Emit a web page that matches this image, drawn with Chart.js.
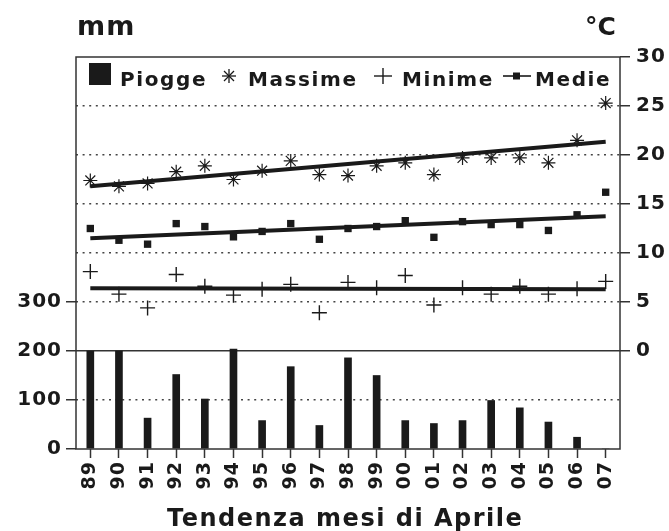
<!DOCTYPE html>
<html>
<head>
<meta charset="utf-8">
<script src="https://cdn.jsdelivr.net/npm/chart.js@4.4.1/dist/chart.umd.min.js"></script>
<style>
  body { margin: 0; background: #fff; }
  #wrap { position: relative; width: 669px; height: 531px; font-family: 'DejaVu Sans', sans-serif; font-weight: bold; color: #1a1a1a; }
  #c { position: absolute; left: 0; top: 0; }
  .lbl { position: absolute; white-space: nowrap; line-height: 1; }
  .leg { font-size: 20px; letter-spacing: 1.6px; top: 69px; }
  svg.ico { position: absolute; }
</style>
</head>
<body>
<div id="wrap">
  <canvas id="c" width="669" height="531"></canvas>
  <div class="lbl" style="left:77px;top:12px;font-size:27px;letter-spacing:1px">mm</div>
  <div class="lbl" style="left:585px;top:14px;font-size:25px">°C</div>
  <div class="lbl" style="left:167px;top:506px;font-size:24px;letter-spacing:1.5px">Tendenza mesi di Aprile</div>

  <div style="position:absolute;left:89px;top:63px;width:22px;height:22px;background:#1a1a1a"></div>
  <div class="lbl leg" style="left:120px">Piogge</div>
  <svg class="ico" style="left:219px;top:66px" width="20" height="20" stroke="#1a1a1a" stroke-width="1.3">
    <line x1="10" y1="3" x2="10" y2="17"/><line x1="3" y1="10" x2="17" y2="10"/>
    <line x1="5" y1="5" x2="15" y2="15"/><line x1="15" y1="5" x2="5" y2="15"/>
  </svg>
  <div class="lbl leg" style="left:248px">Massime</div>
  <svg class="ico" style="left:373px;top:66px" width="20" height="20" stroke="#1a1a1a" stroke-width="1.4">
    <line x1="10" y1="2" x2="10" y2="18"/><line x1="1" y1="10" x2="19" y2="10"/>
  </svg>
  <div class="lbl leg" style="left:402px">Minime</div>
  <svg class="ico" style="left:503px;top:66px" width="28" height="20">
    <line x1="0" y1="10" x2="28" y2="10" stroke="#1a1a1a" stroke-width="1.6"/>
    <rect x="10" y="6.5" width="7" height="7" fill="#1a1a1a"/>
  </svg>
  <div class="lbl leg" style="left:535px">Medie</div>
</div>
<script>
const years = ['89','90','91','92','93','94','95','96','97','98','99','00','01','02','03','04','05','06','07'];
const piogge = [200, 200, 63, 152, 102, 204, 58, 168, 48, 186, 150, 58, 52, 58, 99, 84, 55, 24, 0];
const massime = [17.4, 16.8, 17.1, 18.3, 18.9, 17.5, 18.4, 19.4, 18.0, 17.9, 18.9, 19.2, 18.0, 19.7, 19.7, 19.7, 19.2, 21.5, 25.3];
const minime = [8.1, 5.8, 4.4, 7.8, 6.6, 5.7, 6.3, 6.8, 3.9, 7.0, 6.45, 7.7, 4.7, 6.45, 5.8, 6.6, 5.8, 6.35, 7.1];
const medie = [12.5, 11.3, 10.9, 13.0, 12.7, 11.65, 12.2, 13.0, 11.4, 12.5, 12.7, 13.3, 11.6, 13.2, 12.9, 12.9, 12.3, 13.9, 16.2];
// trend lines: first and last value only, the rest is spanned
const trendMassime = [16.8, null, null, null, null, null, null, null, null, null, null, null, null, null, null, null, null, null, 21.35];
const trendMedie = [11.5, null, null, null, null, null, null, null, null, null, null, null, null, null, null, null, null, null, 13.75];
const trendMinime = [6.4, null, null, null, null, null, null, null, null, null, null, null, null, null, null, null, null, null, 6.3];
const mmTicks = [0, 100, 200, 300];

const ink = '#1a1a1a';
const tickFont = { family: 'DejaVu Sans', size: 20, weight: 'bold' };

const framePlugin = {
  id: 'frame',
  beforeDraw(chart) {
    chart.ctx.letterSpacing = '1px';
  },
  afterDatasetsDraw(chart) {
    const { ctx, chartArea: a } = chart;
    ctx.save();
    ctx.strokeStyle = '#333';
    ctx.lineWidth = 1.5;
    ctx.strokeRect(a.left, a.top, a.right - a.left, a.bottom - a.top);
    ctx.restore();
  }
};

const pts = (label, data, style, r, bw) => ({
  type: 'line', label, data, yAxisID: 't', showLine: false,
  pointStyle: style, pointRadius: r, pointHoverRadius: r,
  borderColor: ink, backgroundColor: ink, pointBorderWidth: bw, clip: false
});
const trend = (data) => ({
  type: 'line', data, yAxisID: 't', spanGaps: true, tension: 0,
  borderColor: ink, borderWidth: 4, pointRadius: 0, borderCapStyle: 'butt'
});

new Chart(document.getElementById('c'), {
  type: 'bar',
  data: {
    labels: years,
    datasets: [
      trend(trendMassime), trend(trendMedie), trend(trendMinime),
      pts('Massime', massime, 'star', 7, 1.2),
      pts('Minime', minime, 'cross', 7.5, 1.4),
      pts('Medie', medie, 'rect', 5.2, 0),
      { type: 'bar', label: 'Piogge', data: piogge, yAxisID: 'y', backgroundColor: ink, barThickness: 7 }
    ]
  },
  options: {
    responsive: false,
    animation: false,
    devicePixelRatio: 1,
    layout: { padding: { top: 57, left: 0, right: 0, bottom: 0 } },
    plugins: { legend: { display: false }, tooltip: { enabled: false } },
    scales: {
      x: {
        offset: true,
        afterFit: (s) => { s.height = 82; },
        grid: { offset: false, drawOnChartArea: false, tickLength: 9, tickColor: '#333', tickWidth: 1.5 },
        border: { display: false },
        ticks: { color: ink, font: { family: 'DejaVu Sans', size: 19, weight: 'bold' }, autoSkip: false, minRotation: 90, maxRotation: 90, padding: 3 }
      },
      y: {
        position: 'left', min: 0, max: 800,
        afterFit: (s) => { s.width = 76; },
        afterBuildTicks: (s) => { s.ticks = [0, 100, 200, 300, 400, 500, 600, 700, 800].map(v => ({ value: v })); },
        grid: {
          color: (c) => [100, 300, 400, 500, 600, 700].includes(c.tick.value) ? '#444' : 'transparent',
          lineWidth: 1.5, tickLength: 10, tickWidth: 1.5,
          tickColor: (c) => mmTicks.includes(c.tick.value) ? '#333' : 'transparent',
          tickBorderDash: []
        },
        border: { display: false, dash: [2, 4.6] },
        ticks: { color: ink, font: tickFont, padding: 4, callback: (v) => mmTicks.includes(v) ? String(v) : '' }
      },
      t: {
        position: 'right', min: -10, max: 30,
        afterFit: (s) => { s.width = 49; },
        ticks: { stepSize: 5, color: ink, font: tickFont, padding: 6, callback: (v) => v >= 0 ? String(v) : '' },
        grid: {
          color: (c) => c.tick.value === 0 ? '#333' : 'transparent',
          lineWidth: 1.5, tickLength: 10, tickWidth: 1.5,
          tickColor: (c) => c.tick.value >= 0 ? '#333' : 'transparent'
        },
        border: { display: false }
      }
    }
  },
  plugins: [framePlugin]
});
</script>
</body>
</html>
